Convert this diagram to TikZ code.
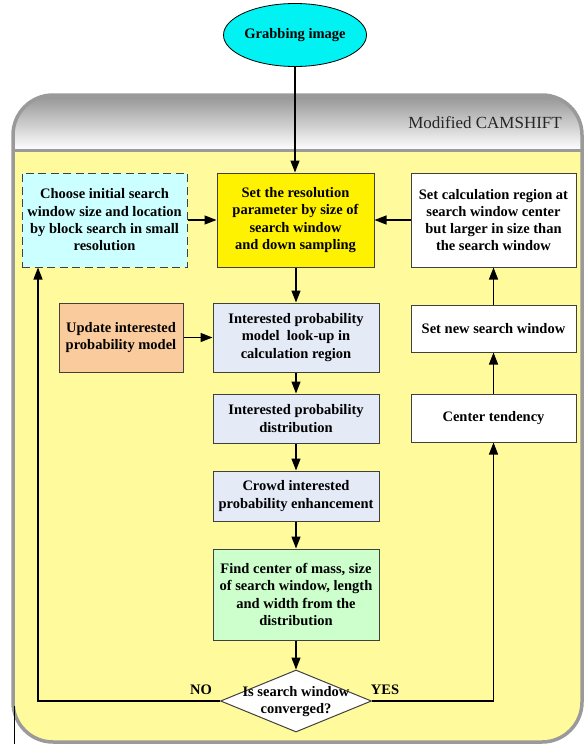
\documentclass[tikz,border=0pt]{standalone}
\usepackage{fontspec}
\setmainfont{LiberationSerif}[Extension=.ttf, UprightFont=*-Regular, BoldFont=*-Bold, ItalicFont=*-Italic, BoldItalicFont=*-BoldItalic]
\usetikzlibrary{shapes.geometric,arrows.meta}
\definecolor{bodyY}{HTML}{FFFB9C}
\definecolor{frameG}{HTML}{9A9A9A}
\definecolor{cyanL}{HTML}{CCFFFF}
\definecolor{lav}{HTML}{E4EAF6}
\definecolor{orng}{HTML}{FACB9C}
\definecolor{grn}{HTML}{CCFFCC}
\definecolor{edgeC}{HTML}{404040}
\definecolor{ellC}{HTML}{00F2F2}
\begin{document}
\begin{tikzpicture}[x=1pt,y=-1pt,
  box/.style={draw=edgeC, line width=1pt, align=center, inner sep=0pt,
    font=\fontsize{14.5}{17.3}\selectfont\bfseries, text=black},
  arr/.style={line width=1.3pt, -{Triangle[length=12pt,width=9pt]}},
  lbl/.style={font=\fontsize{14.5}{17.3}\selectfont\bfseries, text=black, inner sep=0pt}]
\useasboundingbox (0,0) rectangle (584,744);
\fill[white] (0,0) rectangle (584,744);
% container
\begin{scope}
  \clip[rounded corners=40pt] (13,95) rectangle (582,742);
  \fill[bodyY] (13,95) rectangle (582,742);
  \shade[top color=black!42, bottom color=white] (13,95) rectangle (582,150);
\end{scope}
\draw[frameG, line width=3pt] (13,150) -- (582,150);
\draw[frameG, line width=3.5pt, rounded corners=40pt] (13,95) rectangle (582,742);
\node[anchor=east, font=\fontsize{17}{20}\selectfont, text=black!85, inner sep=0pt] (title) at (562,123) {Modified CAMSHIFT};
\draw[black, line width=0.8pt] (14,706) -- (14,744);
% nodes
\node[draw=black, line width=0.8pt, fill=ellC, ellipse, minimum width=122pt, minimum height=63pt, inner sep=0pt, lbl] (grab) at (295,35) {Grabbing image};
\node[box, fill=cyanL, dash pattern=on 8pt off 4.5pt, minimum width=165pt, minimum height=94pt] (init) at (104.5,220)
  {Choose initial search\\window size and location\\by block search in small\\resolution};
\node[box, fill=yellow, minimum width=157pt, minimum height=94pt] (res) at (295.5,220)
  {Set the resolution\\parameter by size of\\search window\\and down sampling};
\node[box, fill=white, minimum width=165pt, minimum height=94pt] (calc) at (493.5,220)
  {Set calculation region at\\search window center\\but larger in size than\\the search window};
\node[box, fill=orng, minimum width=124pt, minimum height=69pt] (upd) at (121,337.5)
  {Update interested\\probability model};
\node[box, fill=lav, minimum width=166pt, minimum height=69pt] (look) at (296,337.5)
  {Interested probability\\model\ \ look-up in\\calculation region};
\node[box, fill=white, minimum width=165pt, minimum height=47pt] (nsw) at (493.5,328.5)
  {Set new search window};
\node[box, fill=lav, minimum width=166pt, minimum height=49pt] (dist) at (296,418.5)
  {Interested probability\\distribution};
\node[box, fill=white, minimum width=165pt, minimum height=48pt] (ct) at (493.5,418)
  {Center tendency};
\node[box, fill=lav, minimum width=166pt, minimum height=50pt] (crowd) at (296,496)
  {Crowd interested\\probability enhancement};
\node[box, fill=grn, minimum width=166pt, minimum height=91pt] (mass) at (296,594.5)
  {Find center of mass, size\\of search window, length\\and width from the\\distribution};
\node[draw=edgeC, line width=1pt, fill=white, diamond, minimum width=151pt, minimum height=62pt, inner sep=0pt] (dec) at (296,701) {};
\node[lbl, align=center] (dectext) at (296,701.5) {Is search window\\converged?};
\node[lbl] (no) at (201,690) {NO};
\node[lbl] (yes) at (385,690) {YES};
\coordinate (noc) at (38,701);
% connectors
\draw[arr] (grab.south) -- (grab.south |- res.north);
\draw[arr] (init.east) -- (res.west);
\draw[arr] (calc.west) -- (res.east);
\draw[arr] (res.south -| look.north) -- (look.north);
\draw[arr] (upd.east) -- (look.west);
\draw[arr] (look.south) -- (dist.north);
\draw[arr] (dist.south) -- (crowd.north);
\draw[arr] (crowd.south) -- (mass.north);
\draw[arr] (mass.south) -- (dec.north);
\draw[arr] (dec.west) -- (noc) -- (noc |- init.south);
\draw[arr] (dec.east) -| (ct.south);
\draw[arr] (ct.north) -- (nsw.south);
\draw[arr] (nsw.north) -- (calc.south);
\end{tikzpicture}
\end{document}
